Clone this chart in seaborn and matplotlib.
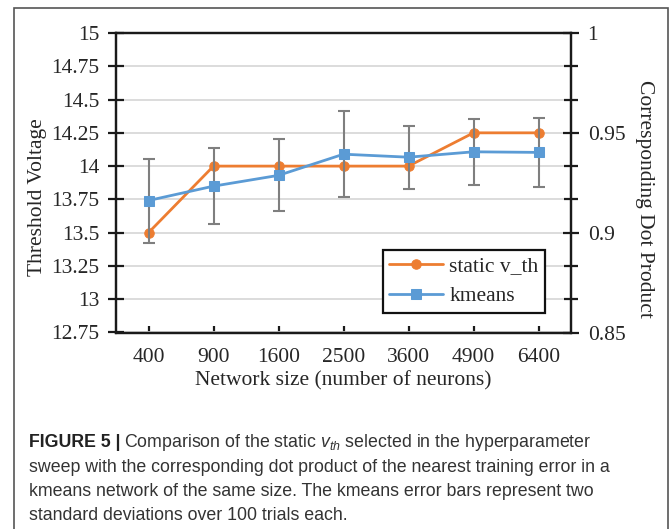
import numpy as np
import pandas as pd
import matplotlib
matplotlib.use("Agg")
import matplotlib.pyplot as plt
from matplotlib.patches import Rectangle
from matplotlib.ticker import FixedLocator
import seaborn as sns

# ---------------- data ----------------
sizes = ["400", "900", "1600", "2500", "3600", "4900", "6400"]
static_vth = [13.5, 14.0, 14.0, 14.0, 14.0, 14.25, 14.25]
kmeans_dot = [0.9161, 0.9233, 0.9287, 0.9393, 0.9378, 0.9405, 0.9402]
kmeans_lo = [0.8948, 0.9045, 0.9111, 0.9178, 0.9221, 0.9241, 0.9228]
kmeans_hi = [0.9371, 0.9423, 0.9467, 0.9607, 0.9533, 0.9569, 0.9573]
left_ticks = [12.75, 13.0, 13.25, 13.5, 13.75, 14.0, 14.25, 14.5, 14.75, 15.0]
left_labels = ["12.75", "13", "13.25", "13.5", "13.75", "14", "14.25", "14.5", "14.75", "15"]
right_ticks = [0.85, 0.9, 0.95, 1.0]
right_labels = ["0.85", "0.9", "0.95", "1"]

df = pd.DataFrame({"size": sizes, "vth": static_vth, "km": kmeans_dot,
                   "lo": kmeans_lo, "hi": kmeans_hi})

sns.set_theme(style="white")
plt.rcParams["font.family"] = ["Liberation Serif", "DejaVu Serif"]
plt.rcParams["mathtext.fontset"] = "custom"
plt.rcParams["mathtext.rm"] = "Liberation Sans"
plt.rcParams["mathtext.it"] = "Liberation Sans:italic"
plt.rcParams["mathtext.bf"] = "Liberation Sans:bold"

ORANGE = "#ED7D31"
BLUE = "#5B9BD5"
TXT = "#262626"
FS = 15.5
SPINE = "#1a1a1a"

fig = plt.figure(figsize=(6.70, 5.29), dpi=100)
ax = fig.add_axes([116 / 670, 1 - 332.5 / 529, (571 - 116) / 670, (332.5 - 33) / 529])

sns.lineplot(data=df, x="size", y="vth", ax=ax, color=ORANGE, marker="o",
             markersize=6.8, markeredgecolor=ORANGE, linewidth=2.0, sort=False,
             label="static v_th", legend=False)
ax.set_ylim(12.75, 15)
ax.set_xlim(-0.5, len(sizes) - 0.5)
ax.set_yticks(left_ticks)
ax.set_yticklabels(left_labels)
ax.yaxis.grid(True, color="#D9D9D9", linewidth=1.3)
ax.xaxis.grid(False)
ax.set_axisbelow(True)

ax2 = ax.twinx()
ax2.errorbar(df["size"], df["km"],
             yerr=[np.array(kmeans_dot) - np.array(kmeans_lo),
                   np.array(kmeans_hi) - np.array(kmeans_dot)],
             fmt="none", ecolor="#7F7F7F", elinewidth=1.5, capsize=4, capthick=1.5,
             zorder=2)
sns.lineplot(data=df, x="size", y="km", ax=ax2, color=BLUE, marker="s",
             markersize=6.8, markeredgecolor=BLUE, linewidth=2.0, sort=False,
             label="kmeans", legend=False, zorder=3)
ax2.set_ylim(0.85, 1.0)
ax2.set_yticks(right_ticks)
ax2.set_yticklabels(right_labels)
ax2.yaxis.set_minor_locator(FixedLocator([0.85 + k * 0.15 / 9 for k in range(10)]))
ax2.set_xlim(-0.5, len(sizes) - 0.5)

for a in (ax, ax2):
    for s in a.spines.values():
        s.set_color(SPINE)
        s.set_linewidth(1.6)
    a.set_xlabel("")
    a.set_ylabel("")

ax.tick_params(axis="y", direction="inout", length=12, width=1.6, color=SPINE,
               labelsize=FS, labelcolor=TXT, pad=6, left=True)
ax.tick_params(axis="x", direction="in", length=5, width=1.6, color=SPINE,
               labelsize=FS, labelcolor=TXT, pad=11, bottom=True)
ax2.tick_params(axis="y", which="both", direction="inout", length=12, width=1.6,
                color=SPINE, labelsize=FS, labelcolor=TXT, pad=6, right=True)
ax2.tick_params(axis="y", which="minor", length=10)

ax.set_xlabel("Network size (number of neurons)", fontsize=FS, color=TXT, labelpad=3)
ax.set_ylabel("Threshold Voltage", fontsize=FS, color=TXT)
ax.yaxis.set_label_coords((47 - 116) / 455, (332.5 - 197) / 299.5)
ax2.set_ylabel("Corresponding Dot Product", fontsize=FS, color=TXT, rotation=270,
               va="bottom")
ax2.yaxis.set_label_coords((635 - 116) / 455, (332.5 - 199) / 299.5)

h1, l1 = ax.get_legend_handles_labels()
h2, l2 = ax2.get_legend_handles_labels()
leg = ax2.legend(h1 + h2, l1 + l2, loc="lower right",
                 bbox_to_anchor=(0.943, 0.066), fontsize=FS, frameon=True,
                 fancybox=False, framealpha=1, edgecolor="#111111",
                 handlelength=2.5, borderpad=0.3, labelspacing=0.45,
                 handletextpad=0.3, borderaxespad=0)
leg.get_frame().set_linewidth(1.6)
for t in leg.get_texts():
    t.set_color(TXT)

# outer frame
fig.patches.append(Rectangle((14 / 670, -0.05), (668 - 14) / 670, 1.05 - 8 / 529,
                             transform=fig.transFigure, fill=False,
                             edgecolor="#555555", linewidth=1.2))

# caption
CFS = 12.8
CCOL = "#333333"
x0 = 29 / 670
bl = [447, 471.5, 496, 520.5]
t0 = fig.text(x0, 1 - bl[0] / 529, "FIGURE 5 |", fontsize=CFS, fontweight="bold",
              family="Liberation Sans", color="#222222", va="baseline")
fig.canvas.draw()
bb = t0.get_window_extent(renderer=fig.canvas.get_renderer())
fig.text(bb.x1 / fig.bbox.width + 4 / 670, 1 - bl[0] / 529,
         r"Comparison of the static $v_{th}$ selected in the hyperparameter",
         fontsize=CFS, family="Liberation Sans", color=CCOL, va="baseline")
lines = ["sweep with the corresponding dot product of the nearest training error in a",
         "kmeans network of the same size. The kmeans error bars represent two",
         "standard deviations over 100 trials each."]
for i, ln in enumerate(lines):
    fig.text(x0, 1 - bl[i + 1] / 529, ln, fontsize=CFS, family="Liberation Sans",
             color=CCOL, va="baseline")

fig.savefig("out.png", dpi=100)
